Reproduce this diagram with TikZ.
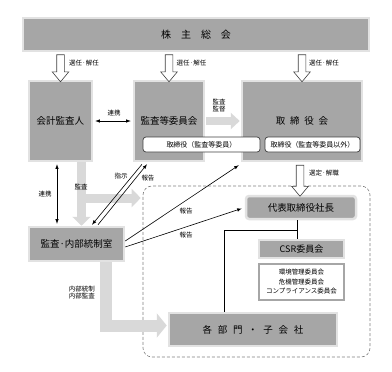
\documentclass[tikz,border=0pt]{standalone}
\usepackage{fontspec}
\setmainfont{Noto Sans CJK JP}
\usetikzlibrary{arrows.meta,shapes.arrows}

\definecolor{boxgray}{HTML}{A6A6A6}
\definecolor{boxedge}{HTML}{E2E2E2}
\definecolor{arrowgray}{HTML}{D9D9D9}
\definecolor{darkline}{HTML}{404040}

\tikzset{
  orgbox/.style={draw=boxedge, line width=2.5pt, fill=boxgray, inner sep=0pt,
    font=\fontsize{9.5}{11}\selectfont},
  subbox/.style={draw=darkline, fill=white, rounded corners=3pt, line width=0.7pt,
    inner sep=0pt, font=\fontsize{7}{8}\selectfont},
  tag/.style={font=\fontsize{6.5}{7.8}\selectfont, inner sep=0pt, align=center},
  hollowdown/.style={single arrow, draw=darkline, fill=white, line width=0.6pt,
    rotate=-90, inner sep=3.5pt, single arrow head extend=4.5pt,
    single arrow tip angle=80},
  lightarrow/.style={line width=9pt, draw=arrowgray,
    -{Triangle[length=9pt,width=18pt]}},
  groupframe/.style={draw=gray, densely dashed, rounded corners=9pt, line width=0.6pt},
  link/.style={line width=0.6pt},
}

\begin{document}
\begin{tikzpicture}[x=1pt,y=-1pt]
    \useasboundingbox (0,0) rectangle (392,372);

    % group frame
    \node[groupframe, minimum width=227pt, minimum height=171pt] (group) at (256.5,271.5) {};

    % boxes
    \node[orgbox, minimum width=346pt, minimum height=33pt, font=\fontsize{10}{12}\selectfont]
        (meeting) at (196,34.5) {株\hspace{1em}主\hspace{1em}総\hspace{1em}会};
    \node[orgbox, minimum width=63pt, minimum height=80pt] (auditor) at (60.5,121) {会計監査人};
    \node[orgbox, minimum width=70pt, minimum height=80pt] (committee) at (169,121) {監査等委員会};
    \node[orgbox, minimum width=120pt, minimum height=80pt] (board) at (302,121)
        {取\hspace{0.5em}締\hspace{0.5em}役\hspace{0.5em}会};
    \node[subbox, minimum width=117pt, minimum height=15pt] (dirA) at (201.5,144.5) {取締役（監査等委員）};
    \node[subbox, minimum width=95pt, minimum height=15pt] (dirB) at (312.5,144.5) {取締役（監査等委員以外）};
    \node[orgbox, minimum width=95pt, minimum height=34pt] (office) at (76.5,244) {監査·内部統制室};
    \node[orgbox, rounded corners=3pt, minimum width=110pt, minimum height=23pt]
        (president) at (301,207.5) {代表取締役社長};
    \node[orgbox, minimum width=85pt, minimum height=18pt, font=\fontsize{9}{11}\selectfont]
        (csr) at (301.5,249) {CSR委員会};
    \node[draw=boxgray, line width=1.5pt, fill=white, minimum width=85pt, minimum height=36pt,
        align=center, inner sep=0pt, font=\fontsize{6.5}{9.5}\selectfont]
        (csrsub) at (301.5,282) {環境管理委員会\\危機管理委員会\\コンプライアンス委員会};
    \node[orgbox, minimum width=168pt, minimum height=33pt] (depts) at (253,329.5)
        {各\hspace{0.6em}部\hspace{0.6em}門\hspace{0.6em}・\hspace{0.6em}子\hspace{0.6em}会\hspace{0.6em}社};

    % election arrows
    \path (meeting.south -| auditor.north) -- (auditor.north)
        node[midway, hollowdown, minimum height=27pt] (electA) {};
    \path (meeting.south -| committee.north) -- (committee.north)
        node[midway, hollowdown, minimum height=27pt] (electB) {};
    \path (meeting.south -| board.north) -- (board.north)
        node[midway, hollowdown, minimum height=27pt] (electC) {};
    \path ([xshift=-2pt]board.south) -- ([xshift=-2pt]board.south |- president.north)
        node[midway, hollowdown, minimum height=31pt] (appoint) {};

    \node[tag] at (84,63) {選任·解任};
    \node[tag] at (191.5,63) {選任·解任};
    \node[tag] at (324,63) {選任·解任};
    \node[tag] at (324,173) {選定·解職};

    % light arrows
    \draw[lightarrow, line width=8pt, -{Triangle[length=9pt,width=16pt]}]
        ([xshift=1pt]committee.east) -- ([xshift=-1pt]board.west);
    \node[tag, align=center] at (219,105.5) {監査\\監督};

    \coordinate (fork) at (81.5,198);
    \draw[lightarrow] ([xshift=21pt]auditor.south) -- ([xshift=5pt]office.north);
    \draw[lightarrow] (fork) -- ([xshift=-2pt]fork -| group.west);
    \node[tag] at (81,187) {監査};

    \draw[lightarrow, line width=12pt, -{Triangle[length=10pt,width=24pt]}]
        ([xshift=29.5pt]office.south) |- ([xshift=-1pt,yshift=4pt]depts.west);
    \node[tag, align=center] at (82,292.5) {内部統制\\内部監査};

    % black links
    \draw[link, latex-latex] ([xshift=2pt]auditor.east) -- ([xshift=-2pt]committee.west);
    \node[tag] at (114,113) {連携};
    \draw[link, latex-latex] ([xshift=-3.5pt,yshift=-2pt]auditor.south)
        -- ([xshift=-3.5pt,yshift=2pt]auditor.south |- office.north);
    \node[tag] at (45,194) {連携};

    \draw[link, -latex] ([xshift=-27pt,yshift=-2pt]committee.south)
        -- ([xshift=15.5pt,yshift=1pt]office.north);
    \draw[link, -latex] ([xshift=21.5pt,yshift=1pt]office.north)
        -- ([xshift=-22pt,yshift=-2pt]committee.south);
    \node[tag] at (121,176) {指示};
    \node[tag] at (148,178) {報告};

    \draw[link, -latex] ([yshift=3pt]office.east) -- ([xshift=-2pt,yshift=-3pt]board.south west);
    \draw[link, -latex] ([yshift=-3pt]office.east) -- ([xshift=-3pt,yshift=-1pt]president.west);
    \node[tag] at (186,211) {報告};
    \node[tag] at (186,235) {報告};

    \draw[link] ([xshift=-4pt]president.south) -- ([xshift=-4pt]president.south |- csr.north);
    \draw[link] ([xshift=-4pt]president.south) ++(0,10) -| ([xshift=-29pt]depts.north);
\end{tikzpicture}
\end{document}
